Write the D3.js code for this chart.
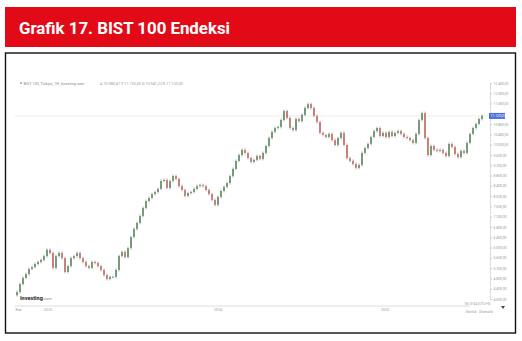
<!DOCTYPE html>
<html>
<head>
<meta charset="utf-8">
<script src="https://cdn.jsdelivr.net/npm/d3@7"></script>
<style>
  body { margin: 0; background: #fff; }
  svg { display: block; }
</style>
</head>
<body>
<div id="chart"></div>
<script>
// BIST 100 closes (roughly one candle every ~6.5 days)
var closes = [
  4270, 4580, 4820, 4970, 5170, 5240, 5360, 5440, 5520, 5670,
  5910, 5790, 5210, 5670, 5790, 5590, 5050, 5280, 5590, 5670,
  5790, 5590, 5440, 5280, 5210, 5440, 5400, 5280, 5130, 4930,
  4780, 4860, 4860, 5130, 5670, 5830, 5630, 5980, 6410, 6720,
  6960, 7230, 7540, 7810, 7930, 8080, 8160, 8280, 8590, 8630,
  8320, 8590, 8780, 8670, 8390, 8240, 8010, 8120, 8160, 8280,
  8390, 8430, 8390, 8240, 8080, 7850, 7660, 7970, 8200, 8360,
  8510, 8780, 9060, 9370, 9600, 9800, 9680, 9480, 9330, 9410,
  9560, 9450, 9680, 9950, 10260, 10500, 10650, 10690, 10960, 11310,
  11040, 10650, 10570, 11000, 10920, 11160, 11430, 11580, 11430, 11120,
  10880, 10460, 10380, 10300, 10420, 10180, 9990, 10260, 10460, 9990,
  9480, 9370, 9250, 9100, 9210, 9680, 9870, 10030, 10300, 10530,
  10650, 10340, 10460, 10300, 10500, 10340, 10460, 10530, 10420, 10300,
  10260, 10180, 10070, 10420, 10960, 11230, 10260, 9600, 9950, 9800,
  9760, 9800, 9680, 9560, 10030, 9910, 9640, 9520, 9760, 9680,
  10070, 10420, 10650, 10810, 11000, 11120
];
var firstOpen = 4150;

var yearLabels = ["Kas", "2023", "2024", "2025"];
var yearAt = [0.5, 10.3, 67, 122.7];   // candle index where each label sits

var priceTicks = d3.range(4000, 12401, 400);

var title = "Grafik 17. BIST 100 Endeksi";
var legendText = "BIST 100, Türkiye, 1H, Investing.com";
var ohlcText = "A 10.980,41  Y 11.152,60  D 10.941,22  K 11.120,00";

var W = 522, H = 341;
var trFmt = d3.formatLocale({decimal: ",", thousands: ".", grouping: [3], currency: ["", "₺"]}).format(",.2f");

var svg = d3.select("#chart").append("svg")
    .attr("width", W)
    .attr("height", H)
    .style("font-family", "Roboto, 'DejaVu Sans', sans-serif");

// red title banner
svg.append("rect")
    .attr("x", 5).attr("y", 7).attr("width", 511).attr("height", 40)
    .attr("fill", "#e20a17");
svg.append("text")
    .attr("x", 19).attr("y", 33.5)
    .attr("fill", "#fff")
    .attr("font-size", 16.5)
    .attr("font-weight", 700)
    .attr("textLength", 211)
    .attr("lengthAdjust", "spacingAndGlyphs")
    .text(title);

// frame
svg.append("rect")
    .attr("x", 5.5).attr("y", 53).attr("width", 510).attr("height", 280)
    .attr("fill", "none")
    .attr("stroke", "#111")
    .attr("stroke-width", 1.4);

var x = d3.scaleLinear().domain([0, closes.length - 1]).range([17, 482]);
var y = d3.scaleLinear().domain([4000, 12400]).range([299, 83]);

// legend line on top
svg.append("circle").attr("cx", 21).attr("cy", 83).attr("r", 1).attr("fill", "#9aa");
svg.append("text")
    .attr("x", 23.5).attr("y", 84.5)
    .attr("font-size", 3.8).attr("fill", "#8a8a8a")
    .text(legendText);
svg.append("text")
    .attr("x", 100).attr("y", 84.5)
    .attr("font-size", 3.8).attr("fill", "#9a9a9a")
    .text(ohlcText);

// last price line
var last = closes[closes.length - 1];
svg.append("line")
    .attr("x1", 15).attr("x2", 489)
    .attr("y1", y(last)).attr("y2", y(last))
    .attr("stroke", "#e6e6e6").attr("stroke-width", 0.8);

// right price axis; labels hidden under the price tag are dropped
var yAxis = svg.append("g")
    .attr("transform", "translate(490,0)")
    .call(d3.axisRight(y).tickValues(priceTicks).tickSize(2).tickPadding(1.5).tickFormat(trFmt));
yAxis.select(".domain").attr("stroke", "#ddd");
yAxis.selectAll(".tick line").attr("stroke", "#ccc");
yAxis.selectAll(".tick text").attr("font-size", 3.4).attr("fill", "#999")
    .attr("font-family", "Roboto, sans-serif");
yAxis.selectAll(".tick").filter(d => Math.abs(y(d) - y(last)) < 5).select("text").remove();

// current price tag
svg.append("rect")
    .attr("x", 489).attr("y", y(last) - 3).attr("width", 16).attr("height", 6)
    .attr("fill", "#4a6fd4");
svg.append("text")
    .attr("x", 490.5).attr("y", y(last) + 1.3)
    .attr("font-size", 3.4).attr("fill", "#fff")
    .text(trFmt(last));

// candles
var candles = closes.map(function (c, i) {
    return {i: i, open: i === 0 ? firstOpen : closes[i - 1], close: c};
});
var up = "#5f8a62", down = "#c86a62";

var g = svg.append("g");
var cg = g.selectAll("g.candle").data(candles).enter()
    .append("g").attr("class", "candle");
cg.append("line")
    .attr("x1", d => x(d.i)).attr("x2", d => x(d.i))
    .attr("y1", d => y(Math.max(d.open, d.close)) - 1.5)
    .attr("y2", d => y(Math.min(d.open, d.close)) + 1.5)
    .attr("stroke", "#666")
    .attr("stroke-width", 0.5);
cg.append("rect")
    .attr("x", d => x(d.i) - 0.8)
    .attr("width", 1.6)
    .attr("y", d => y(Math.max(d.open, d.close)))
    .attr("height", d => Math.max(0.8, Math.abs(y(d.open) - y(d.close))))
    .attr("fill", d => d.close >= d.open ? up : down);

// bottom time axis
svg.append("line")
    .attr("x1", 15).attr("x2", 470).attr("y1", 306).attr("y2", 306)
    .attr("stroke", "#d4d4d4").attr("stroke-width", 0.8);
svg.selectAll("text.year").data(yearLabels).enter()
    .append("text").attr("class", "year")
    .attr("x", (d, k) => x(yearAt[k]))
    .attr("y", 311)
    .attr("text-anchor", "middle")
    .attr("font-size", 3.6).attr("fill", "#999")
    .text(d => d);

// investing.com mark
var logo = svg.append("text").attr("x", 20).attr("y", 299.5).attr("font-size", 5.5);
logo.append("tspan").attr("font-weight", 700).attr("fill", "#222").text("Investing");
logo.append("tspan").attr("font-size", 4).attr("fill", "#888").text(".com");

// bottom right clock and timezone
svg.append("text")
    .attr("x", 464).attr("y", 304.5)
    .attr("font-size", 3.4).attr("fill", "#999")
    .text("18:10:04 (UTC+3)");
svg.append("text")
    .attr("x", 466).attr("y", 313)
    .attr("font-size", 3.4).attr("fill", "#999")
    .text("Günlük · Otomatik");
svg.append("path")
    .attr("d", "M501,306 L505,306 L503,309 Z")
    .attr("fill", "#444");
</script>
</body>
</html>
